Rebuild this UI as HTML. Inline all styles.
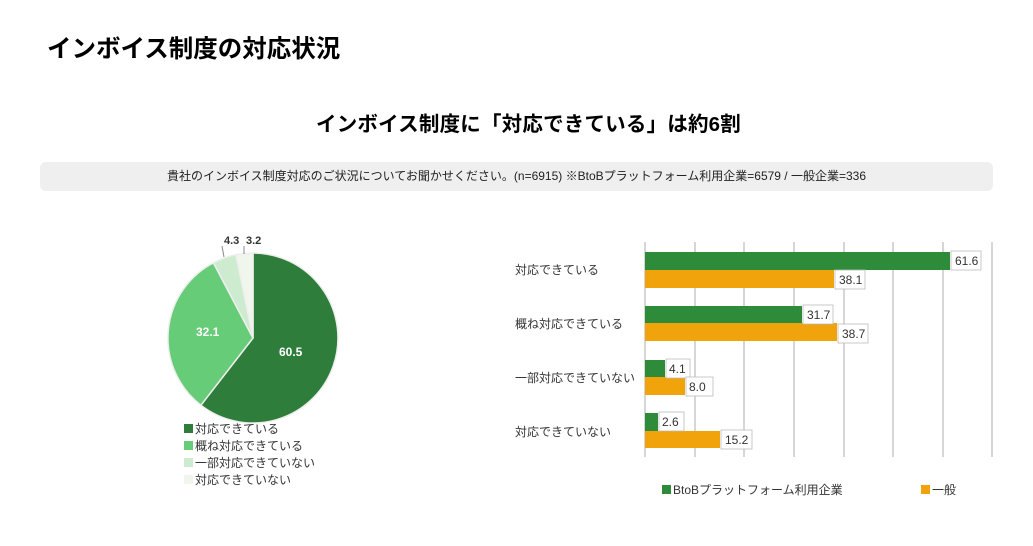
<!DOCTYPE html><html><head><meta charset="utf-8"><style>
body{margin:0;width:1033px;height:546px;background:#fff;font-family:"Liberation Sans","Noto Sans CJK JP",sans-serif;position:relative;overflow:hidden}
.a{position:absolute;white-space:nowrap}
</style></head><body>
<div class="a" style="left:47px;top:30px;font-size:24.5px;font-weight:bold;color:#000">インボイス制度の対応状況</div>
<div class="a" style="left:316px;top:107px;font-size:20.5px;font-weight:bold;color:#000;letter-spacing:0.2px">インボイス制度に「対応できている」は約6割</div>
<div class="a" style="left:40px;top:162px;width:953px;height:29px;background:#efefef;border-radius:6px;text-align:center;line-height:29px;font-size:12px;color:#222">貴社のインボイス制度対応のご状況についてお聞かせください。(n=6915) ※BtoBプラットフォーム利用企業=6579 / 一般企業=336</div>
<svg class="a" style="left:0;top:0" width="1033" height="546" font-family="Liberation Sans, Noto Sans CJK JP, sans-serif">
<g stroke="#eee" stroke-width="1.5">
<path d="M253,338 L253,253 A85,85 0 1,1 200.9,405.2 Z" fill="#2e7d3a"/>
<path d="M253,338 L200.9,405.2 A85,85 0 0,1 213.4,262.8 Z" fill="#66cc77"/>
<path d="M253,338 L213.4,262.8 A85,85 0 0,1 236.0,254.7 Z" fill="#cdeccf"/>
<path d="M253,338 L236.0,254.7 A85,85 0 0,1 253,253 Z" fill="#f0f6ec"/>
</g>
<line x1="224" y1="257" x2="222" y2="246" stroke="#888"/><line x1="244" y1="254" x2="244" y2="246" stroke="#888"/>
<text x="224" y="244" font-size="11" font-weight="bold" fill="#333">4.3</text>
<text x="246" y="244" font-size="11" font-weight="bold" fill="#333">3.2</text>
<text x="279" y="356" font-size="12" font-weight="bold" fill="#fff">60.5</text>
<text x="196" y="336" font-size="12" font-weight="bold" fill="#fff">32.1</text>
<g font-size="12" fill="#333">
<rect x="184" y="424" width="9" height="9" fill="#2e7d3a"/><text x="195" y="433">対応できている</text>
<rect x="184" y="441" width="9" height="9" fill="#66cc77"/><text x="195" y="450">概ね対応できている</text>
<rect x="184" y="458" width="9" height="9" fill="#cdeccf"/><text x="195" y="467">一部対応できていない</text>
<rect x="184" y="475" width="9" height="9" fill="#f0f6ec"/><text x="195" y="484">対応できていない</text>
</g>
<g stroke="#c8c8c8" stroke-width="1.5">
<line x1="645" y1="242" x2="645" y2="457"/><line x1="695" y1="242" x2="695" y2="457"/><line x1="744" y1="242" x2="744" y2="457"/><line x1="794" y1="242" x2="794" y2="457"/><line x1="844" y1="242" x2="844" y2="457"/><line x1="893" y1="242" x2="893" y2="457"/><line x1="943" y1="242" x2="943" y2="457"/><line x1="992" y1="242" x2="992" y2="457"/>
</g>
<g>
<rect x="645" y="252" width="305" height="18" fill="#2e8b3a"/><rect x="645" y="270" width="189" height="18" fill="#f0a30a"/>
<rect x="645" y="306" width="157" height="17" fill="#2e8b3a"/><rect x="645" y="323" width="192" height="18" fill="#f0a30a"/>
<rect x="645" y="360" width="20" height="17" fill="#2e8b3a"/><rect x="645" y="377" width="40" height="18" fill="#f0a30a"/>
<rect x="645" y="413" width="13" height="18" fill="#2e8b3a"/><rect x="645" y="431" width="75" height="17" fill="#f0a30a"/>
</g>
<g font-size="12" fill="#333" stroke="#bbb" stroke-width="0.8">
<rect x="951" y="251" width="30" height="19" fill="#fff"/><rect x="835" y="270" width="30" height="19" fill="#fff"/>
<rect x="803" y="305" width="30" height="19" fill="#fff"/><rect x="838" y="324" width="30" height="19" fill="#fff"/>
<rect x="666" y="359" width="24" height="19" fill="#fff"/><rect x="686" y="377" width="27" height="19" fill="#fff"/>
<rect x="659" y="412" width="25" height="19" fill="#fff"/><rect x="721" y="430" width="31" height="19" fill="#fff"/>
</g>
<g font-size="12" fill="#333">
<text x="955" y="265">61.6</text><text x="839" y="284">38.1</text>
<text x="807" y="319">31.7</text><text x="842" y="338">38.7</text>
<text x="669" y="373">4.1</text><text x="689" y="391">8.0</text>
<text x="662" y="426">2.6</text><text x="725" y="444">15.2</text>
<text x="515" y="274">対応できている</text>
<text x="515" y="328">概ね対応できている</text>
<text x="515" y="382">一部対応できていない</text>
<text x="515" y="436">対応できていない</text>
<rect x="662" y="485" width="9" height="9" fill="#2e8b3a"/><text x="673" y="494">BtoBプラットフォーム利用企業</text>
<rect x="921" y="485" width="9" height="9" fill="#f0a30a"/><text x="932" y="494">一般</text>
</g>
</svg>
</body></html>
